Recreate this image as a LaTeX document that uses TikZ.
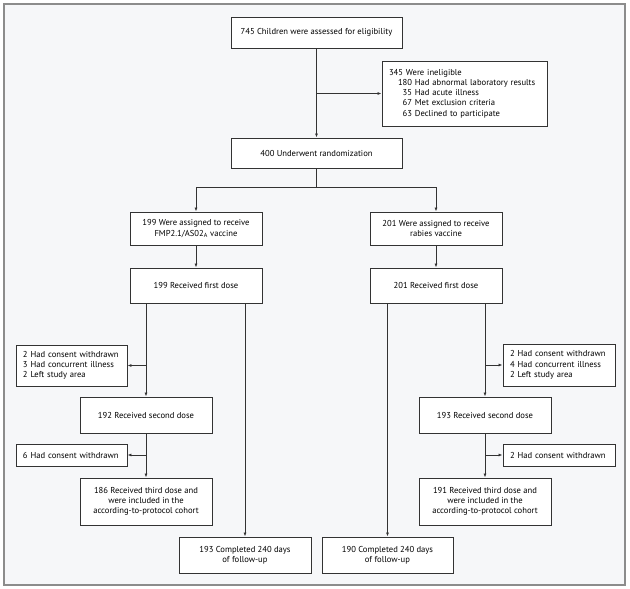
\documentclass[tikz,border=0pt]{standalone}
\usepackage{fontspec}
\setmainfont{PT Sans}
\usetikzlibrary{arrows.meta,calc}
\definecolor{bgc}{HTML}{F6F7F9}
\definecolor{framec}{HTML}{8C8C8C}
\definecolor{linec}{HTML}{333333}
\begin{document}
\begin{tikzpicture}[x=1pt,y=-1pt,
 box/.style={draw=linec, fill=white, line width=0.9pt, inner sep=0pt, align=center, font=\fontsize{8.6}{10.3}\selectfont},
 lbox/.style={box, align=left, inner xsep=7pt},
 arr/.style={draw=linec, line width=0.9pt, -{Latex[length=4pt,width=3pt]}},
 ln/.style={draw=linec, line width=0.9pt}]
\useasboundingbox (0,0) rectangle (630,589);
\draw[framec, fill=bgc, line width=1.2pt] (4,4) rectangle (625,585);

\node[box, minimum width=171pt, minimum height=31pt] (top) at (316.5,32.5) {745 Children were assessed for eligibility};
\node[lbox, minimum height=65pt, text width=151pt, inner xsep=7pt] (inel) at (464.5,93.5)
 {345 Were ineligible\\
  \hspace*{9pt}180 Had abnormal laboratory results\\
  \hspace*{9pt}\phantom{1}35 Had acute illness\\
  \hspace*{9pt}\phantom{1}67 Met exclusion criteria\\
  \hspace*{9pt}\phantom{1}63 Declined to participate};
\node[box, minimum width=171pt, minimum height=30pt] (rand) at (316.5,153) {400 Underwent randomization};

\node[box, minimum width=132pt, minimum height=33pt] (asgL) at (196,228.5) {199 Were assigned to receive\\FMP2.1/AS02\textsubscript{A} vaccine};
\node[box, minimum width=132pt, minimum height=33pt] (asgR) at (436,228.5) {201 Were assigned to receive\\rabies vaccine};

\node[box, minimum width=132pt, minimum height=35pt] (firstL) at (196,285.5) {199 Received first dose};
\node[box, minimum width=132pt, minimum height=35pt] (firstR) at (436,285.5) {201 Received first dose};

\node[lbox, minimum height=41pt, text width=97pt] (exclL) at (71.5,365.5)
 {2 Had consent withdrawn\\3 Had concurrent illness\\2 Left study area};
\node[lbox, minimum height=42pt, text width=98pt] (exclR) at (559,365)
 {2 Had consent withdrawn\\4 Had concurrent illness\\2 Left study area};

\node[box, minimum width=132pt, minimum height=36pt] (secondL) at (146,415) {192 Received second dose};
\node[box, minimum width=132pt, minimum height=36pt] (secondR) at (485,415) {193 Received second dose};

\node[lbox, minimum height=22pt, text width=97pt] (excl2L) at (71.5,455) {6 Had consent withdrawn};
\node[lbox, minimum height=22pt, text width=98pt] (excl2R) at (559,455) {2 Had consent withdrawn};

\node[box, minimum width=132pt, minimum height=47pt] (thirdL) at (146,501.5) {186 Received third dose and\\were included in the\\according-to-protocol cohort};
\node[box, minimum width=132pt, minimum height=47pt] (thirdR) at (485,501.5) {191 Received third dose and\\were included in the\\according-to-protocol cohort};

\node[box, minimum width=132pt, minimum height=36pt] (complL) at (245,555) {193 Completed 240 days\\of follow-up};
\node[box, minimum width=131pt, minimum height=36pt] (complR) at (387.5,555) {190 Completed 240 days\\of follow-up};

% connectors
\draw[arr] (top) -- (rand);
\draw[arr] (top.south |- inel.west) -- (inel.west);
\coordinate (br) at (316.5,187);
\draw[arr] (rand.south) -- (br) -| (asgL.north);
\draw[arr] (br) -| (asgR.north);
\draw[arr] (asgL) -- (firstL);
\draw[arr] (asgR) -- (firstR);

\draw[arr] (secondL.north |- firstL.south) -- (secondL.north);
\draw[arr] (secondL.north |- exclL.east) -- (exclL.east);
\draw[arr] (secondL) -- (thirdL);
\draw[arr] (secondL.south |- excl2L.east) -- (excl2L.east);
\draw[arr] (complL.north |- firstL.south) -- (complL.north);

\draw[arr] (secondR.north |- firstR.south) -- (secondR.north);
\draw[arr] (secondR.north |- exclR.west) -- (exclR.west);
\draw[arr] (secondR) -- (thirdR);
\draw[arr] (secondR.south |- excl2R.west) -- (excl2R.west);
\draw[arr] (complR.north |- firstR.south) -- (complR.north);
\end{tikzpicture}
\end{document}
